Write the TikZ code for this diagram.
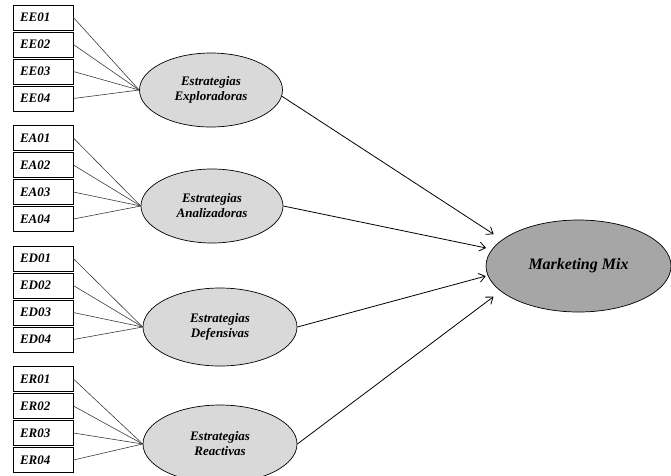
\documentclass[tikz,border=0pt]{standalone}
\usepackage{fontspec}
\setmainfont{Liberation Serif}
\usetikzlibrary{shapes.geometric,arrows.meta}
\definecolor{latente}{HTML}{D9D9D9}
\definecolor{mezcla}{HTML}{A6A6A6}
\definecolor{cable}{HTML}{3C3C3C}

\begin{document}
\begin{tikzpicture}[x=1pt,y=-1pt,>={Straight Barb[length=6pt,width=9pt]},
		item/.style={draw,line width=0.8pt,text width=46pt,inner xsep=7pt,
			minimum height=25pt,align=left,
			font=\fontsize{13}{14}\selectfont\bfseries\itshape},
		factor/.style={draw,ellipse,fill=latente,line width=0.7pt,inner sep=0pt,
			align=center,font=\fontsize{13}{15}\selectfont\bfseries\itshape},
		carga/.style={draw=cable,line width=0.6pt}]
		\useasboundingbox (0,0) rectangle (671,475);

		% indicadores
		\node[item] (ee1) at (43,17.5) {EE01};
		\node[item] (ee2) at (43,44.5) {EE02};
		\node[item] (ee3) at (43,71.5) {EE03};
		\node[item] (ee4) at (43,98.5) {EE04};
		\node[item] (ea1) at (43,138) {EA01};
		\node[item] (ea2) at (43,165) {EA02};
		\node[item] (ea3) at (43,192) {EA03};
		\node[item] (ea4) at (43,219) {EA04};
		\node[item] (ed1) at (43,258.5) {ED01};
		\node[item] (ed2) at (43,285.5) {ED02};
		\node[item] (ed3) at (43,312.5) {ED03};
		\node[item] (ed4) at (43,339.5) {ED04};
		\node[item] (er1) at (43,379) {ER01};
		\node[item] (er2) at (43,406) {ER02};
		\node[item] (er3) at (43,433) {ER03};
		\node[item] (er4) at (43,460) {ER04};

		% estrategias
		\node[factor,minimum width=143pt,minimum height=74pt] (ee) at (211,90)
			{Estrategias\\Exploradoras};
		\node[factor,minimum width=142pt,minimum height=74pt] (ea) at (212,206)
			{Estrategias\\Analizadoras};
		\node[factor,minimum width=154pt,minimum height=78pt] (ed) at (220,327)
			{Estrategias\\Defensivas};
		\node[factor,minimum width=154pt,minimum height=78pt] (er) at (220,444)
			{Estrategias\\Reactivas};
		\node[draw,ellipse,fill=mezcla,line width=0.7pt,minimum width=185pt,
			minimum height=92pt,font=\fontsize{16}{18}\selectfont\bfseries\itshape]
			(mm) at (578.5,266) {Marketing Mix};

		\draw[carga] (ee1.east) -- (ee.west);
		\draw[carga] (ee2.east) -- (ee.west);
		\draw[carga] (ee3.east) -- (ee.west);
		\draw[carga] (ee4.east) -- (ee.west);
		\draw[carga] (ea1.east) -- (ea.west);
		\draw[carga] (ea2.east) -- (ea.west);
		\draw[carga] (ea3.east) -- (ea.west);
		\draw[carga] (ea4.east) -- (ea.west);
		\draw[carga] (ed1.east) -- (ed.west);
		\draw[carga] (ed2.east) -- (ed.west);
		\draw[carga] (ed3.east) -- (ed.west);
		\draw[carga] (ed4.east) -- (ed.west);
		\draw[carga] (er1.east) -- (er.west);
		\draw[carga] (er2.east) -- (er.west);
		\draw[carga] (er3.east) -- (er.west);
		\draw[carga] (er4.east) -- (er.west);

		\draw[->,line width=0.8pt,shorten >=10pt] (ee.-5) -- (mm.161);
		\draw[->,line width=0.8pt,shorten >=6pt] (ea.east) -- (mm.169);
		\draw[->,line width=0.8pt,shorten >=2pt] (ed.east) -- (mm.186);
		\draw[->,line width=0.8pt,shorten >=9pt] (er.east) -- (mm.198);
	\end{tikzpicture}
\end{document}
